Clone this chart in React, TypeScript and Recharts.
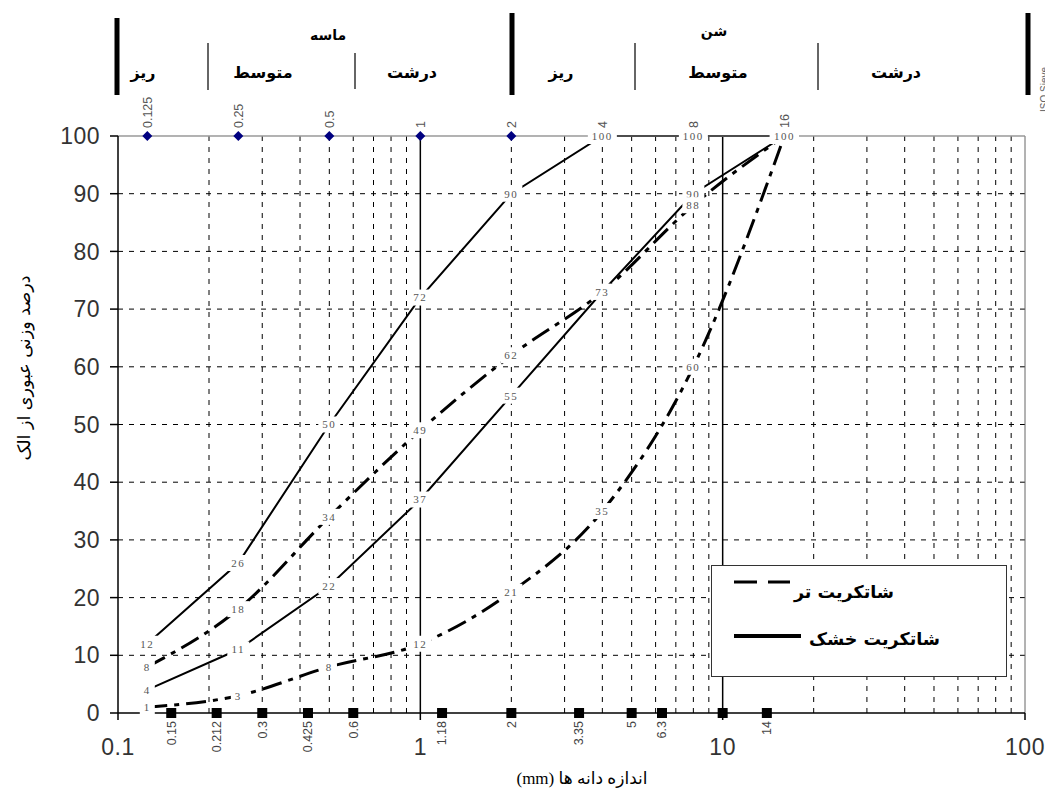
import React from 'react';
import { LineChart, Line, XAxis, YAxis, ReferenceLine, LabelList, Legend } from 'recharts';

// sieve sizes (mm) and percent passing
const sieveSizes = [0.125, 0.25, 0.5, 1, 2, 4, 8, 16];
const dryUpper = [12, 26, 50, 72, 90, 100, 100, 100];
const dryLower = [4, 11, 22, 37, 55, 73, 90, 100];
const wetUpper = [8, 18, 34, 49, 62, 73, 88, 100];
const wetLower = [1, 3, 8, 12, 21, 35, 60, 100];

// ISO sieve markers on top, ASTM sieve markers on bottom
const isoSieves = [0.125, 0.25, 0.5, 1, 2];
const astmSieves = [0.15, 0.212, 0.3, 0.425, 0.6, 1.18, 2, 3.35, 5, 6.3, 10, 14];
const astmLabels = ['0.15', '0.212', '0.3', '0.425', '0.6', '1.18', '2', '3.35', '5', '6.3', '', '14'];

const xTicks = [0.1, 1, 10, 100];
const topTicks = [0.125, 0.25, 0.5, 1, 2, 4, 8, 16];
const yTicks = [0, 10, 20, 30, 40, 50, 60, 70, 80, 90, 100];
const minorX = [0.2, 0.3, 0.4, 0.5, 0.6, 0.7, 0.8, 0.9, 2, 3, 4, 5, 6, 7, 8, 9, 20, 30, 40, 50, 60, 70, 80, 90];
const majorX = [1, 10];
const gridY = [10, 20, 30, 40, 50, 60, 70, 80, 90];

const toSeries = (ys: number[]) => sieveSizes.map((x, i) => ({ x, y: ys[i] }));
const dryUpperData = toSeries(dryUpper);
const dryLowerData = toSeries(dryLower);
const wetUpperData = toSeries(wetUpper);
const wetLowerData = toSeries(wetLower);
const isoData = isoSieves.map((x) => ({ x, y: 100 }));
const astmData = astmSieves.map((x, i) => ({ x, y: 0, label: astmLabels[i] }));

const W = 1045;
const H = 786;
const persian = '"DejaVu Sans", sans-serif';
const latin = '"Liberation Sans", Arial, sans-serif';
const wetDash = '20 7 5 7';

const Diamond = (p: any) => {
  const { cx, cy } = p;
  if (cx == null || cy == null) return null;
  return <polygon points={`${cx},${cy - 5} ${cx + 5},${cy} ${cx},${cy + 5} ${cx - 5},${cy}`} fill="#000080" />;
};

const Square = (p: any) => {
  const { cx, cy } = p;
  if (cx == null || cy == null) return null;
  return <rect x={cx - 5} y={cy - 5} width={10} height={10} fill="#000" />;
};

const ValueLabel = (p: any) => {
  const { x, y, value } = p;
  if (x == null || y == null) return null;
  const s = String(value);
  const w = s.length * 7 + 8;
  return (
    <g>
      <rect x={x - w / 2} y={y - 8} width={w} height={16} fill="#fff" />
      <text x={x} y={y} dy="0.35em" textAnchor="middle" fontSize={11} letterSpacing={1.5}
        fill="#555" fontFamily='"Liberation Serif", serif'>{s}</text>
    </g>
  );
};

const SieveLabel = (p: any) => {
  const { x, y, value } = p;
  if (!value) return null;
  const ty = y + 8;
  return (
    <text x={x} y={ty} dy="0.35em" transform={`rotate(-90 ${x} ${ty})`} textAnchor="end"
      fontSize={12.5} fill="#444" fontFamily={latin}>{value}</text>
  );
};

const TopTick = (p: any) => {
  const { x, y, payload } = p;
  return (
    <text x={x} y={y} dy="0.35em" transform={`rotate(-90 ${x} ${y})`} textAnchor="start"
      fontSize={12.5} fill="#555" fontFamily={latin}>{payload.value}</text>
  );
};

const LegendBox = () => (
  <div style={{ width: 296, height: 112, border: '1px solid #333', background: '#fff', boxSizing: 'border-box' }}>
    <svg width={294} height={110}>
      <line x1={22} y1={16} x2={78} y2={16} stroke="#000" strokeWidth={3} strokeDasharray="23 11" />
      <text x={182} y={32} textAnchor="end" fontSize={17.5} fontWeight="bold" fontFamily={persian} fill="#000">شاتکریت تر</text>
      <line x1={22} y1={70} x2={89} y2={70} stroke="#000" strokeWidth={4} />
      <text x={228} y={79} textAnchor="end" fontSize={17.5} fontWeight="bold" fontFamily={persian} fill="#000">شاتکریت خشک</text>
    </svg>
  </div>
);

export default function App() {
  const thick = [
    { x: 109, y1: 10, y2: 87 },
    { x: 504, y1: 5, y2: 87 },
    { x: 1020, y1: 5, y2: 87 },
  ];
  const thin = [
    { x: 200, y1: 35, y2: 82 },
    { x: 347, y1: 45, y2: 81 },
    { x: 627, y1: 35, y2: 82 },
    { x: 810, y1: 35, y2: 82 },
  ];
  const subs = [
    { x: 135, t: 'ریز' }, { x: 255, t: 'متوسط' }, { x: 404, t: 'درشت' },
    { x: 553, t: 'ریز' }, { x: 710, t: 'متوسط' }, { x: 888, t: 'درشت' },
  ];
  const tickStyle = { fontSize: 23, fill: '#333', fontFamily: latin, letterSpacing: 0.5 };
  return (
    <div style={{ position: 'relative', width: W, height: H }}>
      <LineChart width={W} height={H} margin={{ top: 98, right: 28, bottom: 41, left: 50 }}>
        <XAxis dataKey="x" type="number" scale="log" domain={[0.1, 100]} ticks={xTicks}
          height={40} tickSize={7} tickMargin={19} stroke="#000" strokeWidth={1.5} tick={tickStyle} />
        <XAxis xAxisId="top" orientation="top" dataKey="x" type="number" scale="log" domain={[0.1, 100]}
          allowDataOverflow ticks={topTicks} height={30} tickLine={false} tickSize={0} tickMargin={8}
          axisLine={{ stroke: '#999' }} tick={<TopTick />} />
        <YAxis type="number" domain={[0, 100]} ticks={yTicks} width={60} tickSize={8} tickMargin={10}
          stroke="#000" strokeWidth={1.5} tick={tickStyle} />

        {gridY.map((v) => (
          <ReferenceLine key={`gy${v}`} y={v} stroke="#000" strokeDasharray="5 6" />
        ))}
        {minorX.map((v) => (
          <ReferenceLine key={`gx${v}`} x={v} stroke="#000" strokeDasharray="5 6" />
        ))}
        {majorX.map((v) => (
          <ReferenceLine key={`mx${v}`} x={v} stroke="#000" strokeWidth={1.5} />
        ))}
        <ReferenceLine y={100} stroke="#999" />
        <ReferenceLine x={100} stroke="#666" />

        <Line data={dryUpperData} dataKey="y" type="linear" stroke="#000" strokeWidth={2} dot={false} isAnimationActive={false} />
        <Line data={dryLowerData} dataKey="y" type="linear" stroke="#000" strokeWidth={2} dot={false} isAnimationActive={false} />
        <Line data={wetUpperData} dataKey="y" type="monotone" stroke="#000" strokeWidth={3} strokeDasharray={wetDash} dot={false} isAnimationActive={false} />
        <Line data={wetLowerData} dataKey="y" type="monotone" stroke="#000" strokeWidth={3} strokeDasharray={wetDash} dot={false} isAnimationActive={false} />

        <Line data={isoData} dataKey="y" stroke="none" dot={<Diamond />} activeDot={false} isAnimationActive={false} />
        <Line data={astmData} dataKey="y" stroke="none" dot={<Square />} activeDot={false} isAnimationActive={false}>
          <LabelList dataKey="label" content={<SieveLabel />} />
        </Line>

        {[dryUpperData, dryLowerData, wetUpperData, wetLowerData].map((d, i) => (
          <Line key={`lab${i}`} data={d} dataKey="y" stroke="none" dot={false} activeDot={false} isAnimationActive={false}>
            <LabelList dataKey="y" content={<ValueLabel />} />
          </Line>
        ))}

        <Legend layout="horizontal" verticalAlign="middle" align="center" content={<LegendBox />}
          wrapperStyle={{ left: 703, top: 557, width: 296, height: 112 }} />
      </LineChart>

      <svg width={W} height={H} style={{ position: 'absolute', left: 0, top: 0, pointerEvents: 'none' }}>
        {thick.map((b, i) => (
          <rect key={`t${i}`} x={b.x - 2.5} y={b.y1} width={5} height={b.y2 - b.y1} fill="#000" />
        ))}
        {thin.map((b, i) => (
          <line key={`n${i}`} x1={b.x} y1={b.y1} x2={b.x} y2={b.y2} stroke="#333" strokeWidth={1.5} />
        ))}
        <text x={320} y={32} textAnchor="middle" fontSize={14} fontWeight="bold" fontFamily={persian}>ماسه</text>
        <text x={706} y={28} textAnchor="middle" fontSize={14} fontWeight="bold" fontFamily={persian}>شن</text>
        {subs.map((s, i) => (
          <text key={`s${i}`} x={s.x} y={70} textAnchor="middle" fontSize={16} fontWeight="bold" fontFamily={persian}>{s.t}</text>
        ))}
        <text x={1040} y={104} transform="rotate(-90 1040 104)" fontSize={10} fill="#666" fontFamily={latin}>ISO Sieve</text>
        <text x={16} y={360} transform="rotate(-90 16 360)" textAnchor="middle" dy="0.35em" fontSize={17.5} fontFamily={persian}>درصد وزنی عبوری از الک</text>
        <text x={574} y={776} textAnchor="middle" direction="rtl" fontSize={17}
          fontFamily={'"Liberation Serif", "DejaVu Sans", serif'}>اندازه دانه ها (mm)</text>
      </svg>
    </div>
  );
}
